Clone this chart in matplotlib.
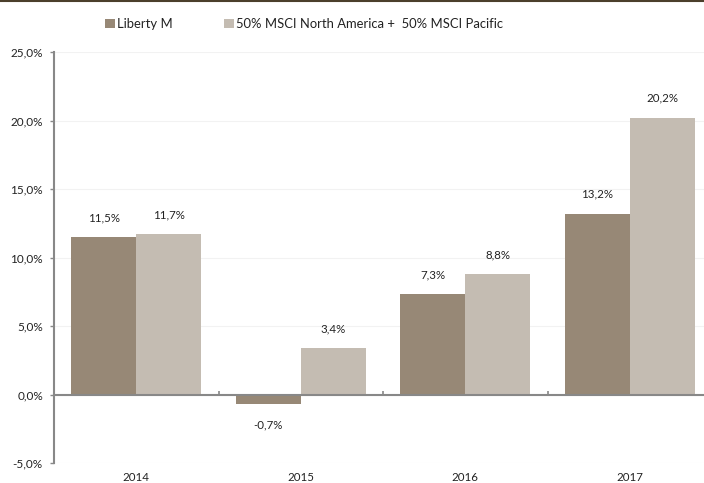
import matplotlib
matplotlib.use("Agg")
import matplotlib.pyplot as plt
from matplotlib.lines import Line2D
from matplotlib.patches import Patch
import numpy as np

plt.rcParams['font.family'] = ['Lato', 'DejaVu Sans']

years = ["2014", "2015", "2016", "2017"]
liberty = [11.5, -0.7, 7.3, 13.2]
bench = [11.7, 3.4, 8.8, 20.2]
series_names = ["Liberty M", "50% MSCI North America +  50% MSCI Pacific"]
colors = ["#978876", "#C4BCB2"]


def fmt(v):
    return ("%.1f%%" % v).replace(".", ",")


fig = plt.figure(figsize=(7.04, 4.83), dpi=100)
ax = fig.add_axes([54 / 704, 1 - 463 / 483, 658 / 704, 411 / 483])

x = np.arange(len(years))
w = 0.395
b1 = ax.bar(x - w / 2, liberty, w, color=colors[0], zorder=2)
b2 = ax.bar(x + w / 2, bench, w, color=colors[1], zorder=2)

for bars, vals in ((b1, liberty), (b2, bench)):
    for rect, v in zip(bars, vals):
        off = 14 if v >= 0 else -15
        ax.annotate(fmt(v), (rect.get_x() + rect.get_width() / 2, v),
                    xytext=(0, off), textcoords="offset points",
                    ha="center", va="center", fontsize=8.3, color="#222222")

ax.set_xlim(-0.5, len(years) - 0.5)
ax.set_ylim(-5, 25)
ax.set_yticks(np.arange(-5, 26, 5))
ax.set_yticklabels([fmt(v) for v in np.arange(-5, 26, 5)], fontsize=8.5, color="#222222")
ax.yaxis.grid(True, color="#F2F2F2", linewidth=0.8, zorder=0)
ax.tick_params(axis="y", length=3, width=1, color="#888888", pad=5)

ax.spines["top"].set_visible(False)
ax.spines["right"].set_visible(False)
ax.spines["left"].set_color("#888888")
ax.spines["left"].set_linewidth(1.5)
ax.spines["bottom"].set_position(("data", 0))
ax.spines["bottom"].set_color("#888888")
ax.spines["bottom"].set_linewidth(1.5)
ax.spines["bottom"].set_zorder(3)

ax.set_xticks(x[:-1] + 0.5)
ax.set_xticklabels([])
ax.tick_params(axis="x", direction="in", length=3, width=1.2, color="#888888")

tr = ax.get_xaxis_transform()
for xi, yr in zip(x, years):
    ax.text(xi, -0.035, yr, transform=tr, ha="center", va="center",
            fontsize=8.3, color="#222222")

handles = [Patch(facecolor=c, edgecolor="none") for c in colors]
fig.legend(handles, series_names, loc="center left", bbox_to_anchor=(105 / 704, 1 - 24 / 483),
           ncol=2, frameon=False, fontsize=9.4, handlelength=0.77, handleheight=0.77,
           handletextpad=0.15, columnspacing=3.9, borderpad=0, borderaxespad=0,
           labelcolor="#222222")

fig.add_artist(Line2D([0, 1], [1 - 0.8 / 483, 1 - 0.8 / 483], color="#4B3F2B",
                      linewidth=1.5, transform=fig.transFigure))

fig.savefig("out.png", dpi=100)
